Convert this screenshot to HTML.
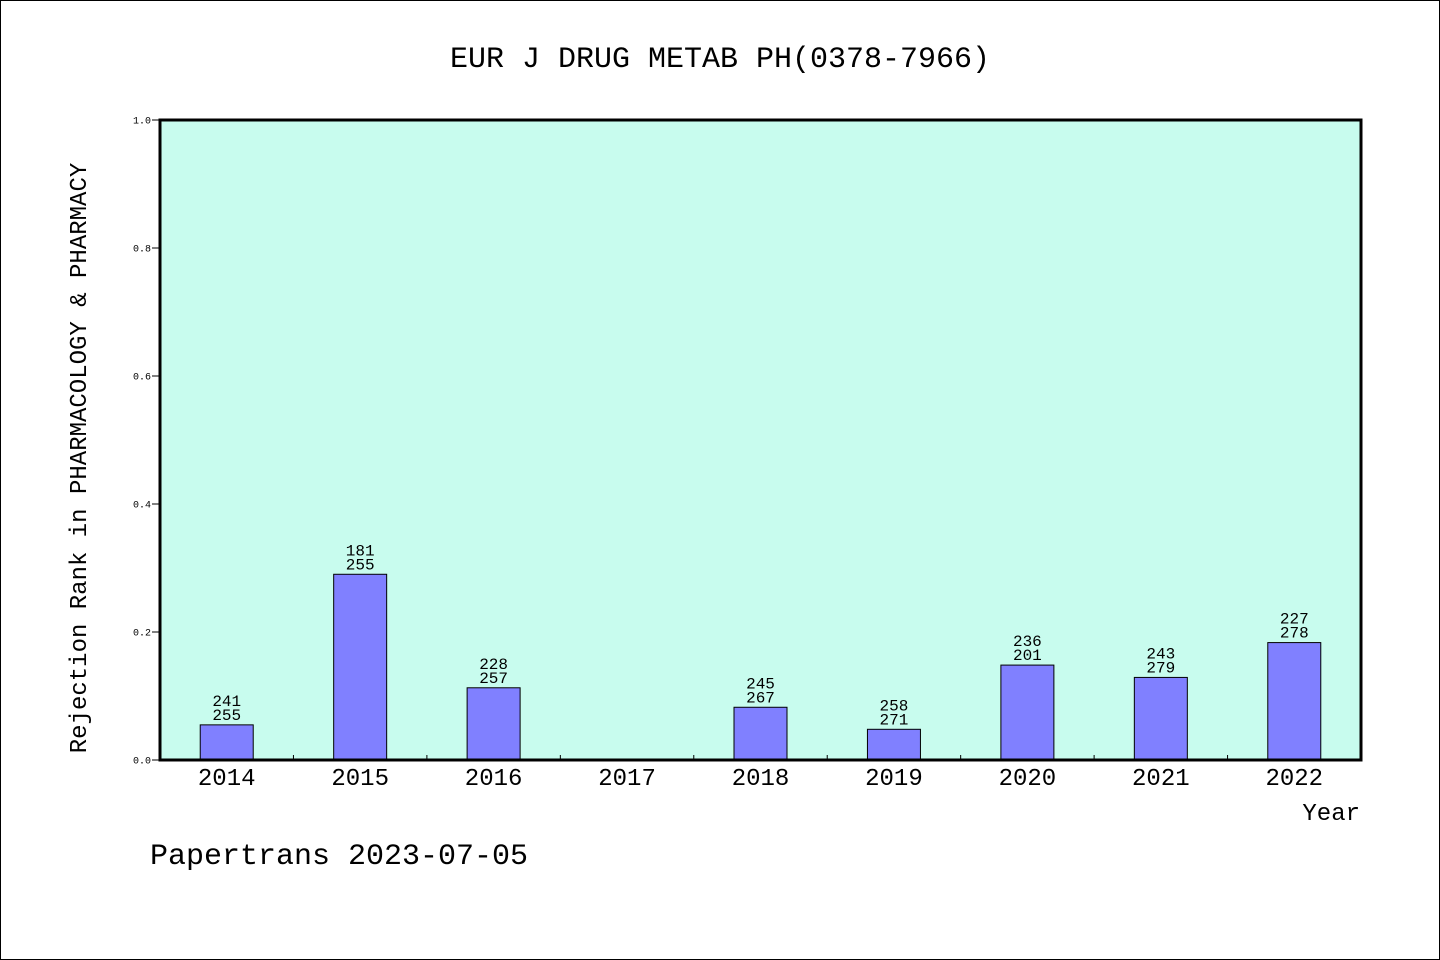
<!DOCTYPE html>
<html><head><meta charset="utf-8"><style>
body{margin:0;background:#fff;}
svg{display:block;font-family:"Liberation Mono","Noto Sans CJK SC",monospace;}
</style></head><body>
<svg id="chart" width="1440" height="960">
<rect x="0.5" y="0.5" width="1439" height="959" fill="#fff" stroke="#000"/>
<text x="720" y="67" font-size="30" text-anchor="middle">EUR J DRUG METAB PH(0378-7966)</text>
<rect x="160" y="120" width="1201" height="640" fill="#c8fcee"/>
<g id="bars"></g>
<g id="axes"></g>
<rect x="160" y="120" width="1201" height="640" fill="none" stroke="#000" stroke-width="3"/>
<text x="86" y="458" font-size="24" text-anchor="middle" transform="rotate(-90 86 458)">Rejection Rank in PHARMACOLOGY &amp; PHARMACY</text>
<text x="1360" y="820" font-size="24" text-anchor="end">Year</text>
<text x="150" y="864" font-size="30">Papertrans 2023-07-05</text>
</svg>
<script>
const categories=["2014","2015","2016","2017","2018","2019","2020","2021","2022"];
const ranks=[241,181,228,null,245,258,236,243,227];
const totals=[255,255,257,null,267,271,201,279,278];
const yTicks=[0,0.2,0.4,0.6,0.8,1.0];
const yTickLabels=["0.0","0.2","0.4","0.6","0.8","1.0"];
const NS="http://www.w3.org/2000/svg";
const x0=160,x1=1361,yb=760,yt=120;
const band=(x1-x0)/categories.length;
function xScale(i){return x0+band*(i+0.5);}
function yScale(v){return yb-(yb-yt)*v;}
const bars=document.getElementById('bars'),axes=document.getElementById('axes');
function mk(tag,attrs,parent){const e=document.createElementNS(NS,tag);for(const k in attrs)e.setAttribute(k,attrs[k]);parent.appendChild(e);return e;}
categories.forEach((c,i)=>{
  const cx=xScale(i);
  const t=mk('text',{x:cx,y:785,'font-size':24,'text-anchor':'middle'},axes);
  t.textContent=c;
  
  
  if(i>0){const l=mk('line',{x1:x0+band*i,x2:x0+band*i,y1:yb,y2:yb-5,stroke:'#000'},axes);
    
    }
  if(ranks[i]==null)return;
  const a0=ranks[i],b0=totals[i];
  const v=1-Math.min(a0,b0)/Math.max(a0,b0);
  const y=yScale(v);
  const r=mk('rect',{x:cx-26.5,y:y,width:53,height:yb-y,fill:'#8080ff',stroke:'#000','stroke-width':1},bars);
  
  
  const a=mk('text',{x:cx,y:y-19,'font-size':16,'text-anchor':'middle'},bars);
  a.textContent=ranks[i];
  
  
  const b=mk('text',{x:cx,y:y-5,'font-size':16,'text-anchor':'middle'},bars);
  b.textContent=totals[i];
  
  
});
yTicks.forEach((v,i)=>{
  const y=yScale(v);
  const l=mk('line',{x1:x0-8,x2:x0,y1:y,y2:y,stroke:'#000'},axes);
  
  
  const t=mk('text',{x:151,y:y+3.5,'font-size':10,'text-anchor':'end'},axes);
  t.textContent=yTickLabels[i];
  
  
});
</script>
</body></html>
